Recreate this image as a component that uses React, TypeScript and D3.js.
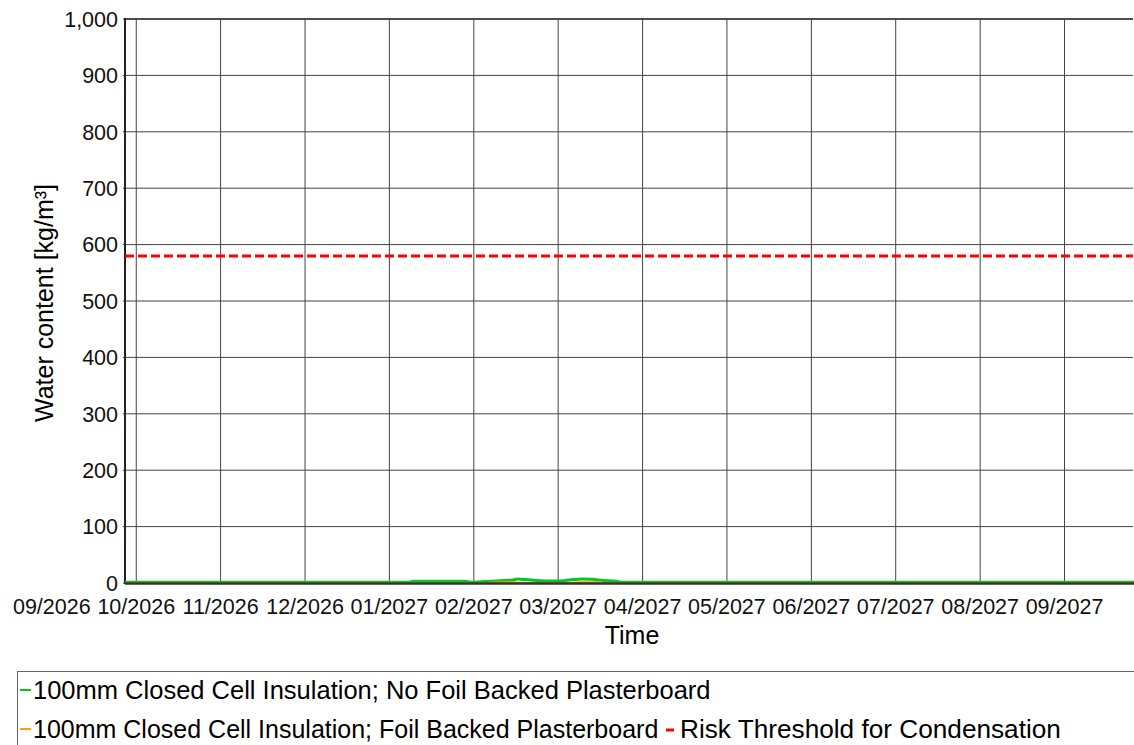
import React from "react";
import * as d3 from "d3";

const yTicks = [0, 100, 200, 300, 400, 500, 600, 700, 800, 900, 1000];
const xTickLabels = [
  "09/2026", "10/2026", "11/2026", "12/2026", "01/2027", "02/2027",
  "03/2027", "04/2027", "05/2027", "06/2027", "07/2027", "08/2027", "09/2027",
];
// ticks are spaced by one average month (730.5 h), as in the source chart
const firstTick = "2026-09-01T00:00:00";
const tickStepHours = 730.5;
const threshold = 580;

const noFoilDates = [
  "2026-09-27", "2027-01-08", "2027-01-09", "2027-01-28", "2027-01-30", "2027-02-02",
  "2027-02-06", "2027-02-10", "2027-02-14", "2027-02-16", "2027-02-19", "2027-02-24",
  "2027-03-01", "2027-03-05", "2027-03-08", "2027-03-11", "2027-03-15", "2027-03-19",
  "2027-03-23", "2027-03-26", "2027-09-27",
];
const noFoilValues = [
  1.2, 1.2, 3.0, 3.0, 1.3, 1.8,
  3.2, 4.0, 5.2, 7.0, 6.0, 4.2,
  3.5, 4.2, 6.0, 7.2, 6.5, 4.5,
  3.6, 1.2, 1.2,
];

const foilDates = [
  "2026-09-27", "2027-02-05", "2027-02-07", "2027-02-12", "2027-02-15", "2027-02-17",
  "2027-03-07", "2027-03-10", "2027-03-17", "2027-03-20", "2027-09-27",
];
const foilValues = [
  0, 0, 1.3, 1.6, 1.6, 0,
  0, 1.5, 1.6, 0, 0,
];

const legendItems = [
  { label: "100mm Closed Cell Insulation; No Foil Backed Plasterboard", color: "#00c81e" },
  { label: "100mm Closed Cell Insulation; Foil Backed Plasterboard", color: "#ffa500" },
  { label: "Risk Threshold for Condensation", color: "#ff0000" },
];

const W = 1134;
const H = 745;
const left = 125;
const right = 1133;
const top = 19;
const bottom = 583;

export default function App() {
  const x = d3
    .scaleTime()
    .domain([new Date("2026-09-27T09:30:00"), new Date("2027-09-25T23:00:00")])
    .range([left, right]);
  const y = d3.scaleLinear().domain([0, 1000]).range([bottom, top]);
  const parse = (s: string) => new Date(s + "T00:00:00");
  const tickDates = xTickLabels.map((_, i) =>
    d3.timeHour.offset(new Date(firstTick), Math.round(i * tickStepHours))
  );

  const line = d3
    .line<[Date, number]>()
    .x((d) => x(d[0]))
    .y((d) => y(d[1]))
    .curve(d3.curveMonotoneX);

  const green = noFoilDates.map((d, i) => [parse(d), noFoilValues[i]] as [Date, number]);
  const orange = foilDates.map((d, i) => [parse(d), foilValues[i]] as [Date, number]);
  const font = "'Liberation Sans', Arial, sans-serif";

  return (
    <svg
      width={W}
      height={H}
      style={{ position: "fixed", left: 0, top: 0, background: "#fff" }}
      fontFamily={font}
    >
      <defs>
        <clipPath id="plot">
          <rect x={left} y={top - 2} width={right - left + 2} height={bottom - top + 4} />
        </clipPath>
      </defs>
      {yTicks.map((t) => (
        <line key={"h" + t} x1={left - 2} x2={right} y1={y(t)} y2={y(t)} stroke="#444" strokeWidth={1} />
      ))}
      {tickDates.map((d, i) => {
        const xx = x(d);
        if (xx < left) return null;
        return <line key={"v" + i} x1={xx} x2={xx} y1={top} y2={bottom} stroke="#444" strokeWidth={1} />;
      })}
      <line x1={left} x2={right} y1={top} y2={top} stroke="#333" strokeWidth={1.5} />
      <line x1={left} x2={left} y1={top - 1} y2={bottom + 1} stroke="#222" strokeWidth={2} />
      <g clipPath="url(#plot)">
        <path d={line(green) || ""} fill="none" stroke="#00c81e" strokeWidth={3} />
        <path d={line(orange) || ""} fill="none" stroke="#ff9a00" strokeWidth={1.6} />
      </g>
      <line x1={left} x2={right + 2} y1={bottom + 0.5} y2={bottom + 0.5} stroke="#333" strokeWidth={2.4} />
      {yTicks.map((t) => (
        <text key={"yl" + t} x={118} y={y(t)} dy="0.36em" textAnchor="end" fontSize={21.5} fill="#111">
          {d3.format(",")(t)}
        </text>
      ))}
      {tickDates.map((d, i) => (
        <text key={"xl" + i} x={x(d)} y={614} textAnchor="middle" fontSize={21.5} fill="#111">
          {xTickLabels[i]}
        </text>
      ))}
      <text x={632} y={644} textAnchor="middle" fontSize={25} fill="#000">Time</text>
      <text
        transform={`translate(53, ${y(500) + 2}) rotate(-90)`}
        textAnchor="middle"
        fontSize={25}
        fill="#000"
      >
        Water content [kg/m³]
      </text>
      <g clipPath="url(#plot)">
        <line
          x1={left}
          x2={right}
          y1={y(threshold)}
          y2={y(threshold)}
          stroke="#ff0000"
          strokeWidth={3}
          strokeDasharray="9,4"
        />
      </g>
      <rect x={17.5} y={671.5} width={1130} height={100} fill="none" stroke="#666" strokeWidth={1} />
      <line x1={20} x2={31} y1={690} y2={690} stroke={legendItems[0].color} strokeWidth={2} />
      <text x={33} y={699} fontSize={25.5} fill="#000">{legendItems[0].label}</text>
      <line x1={20} x2={31} y1={729} y2={729} stroke={legendItems[1].color} strokeWidth={2} />
      <text x={33} y={738} fontSize={25} fill="#000">{legendItems[1].label}</text>
      <line x1={666} x2={674} y1={730} y2={730} stroke={legendItems[2].color} strokeWidth={3} />
      <text x={680} y={738} fontSize={26.2} fill="#000">{legendItems[2].label}</text>
    </svg>
  );
}
